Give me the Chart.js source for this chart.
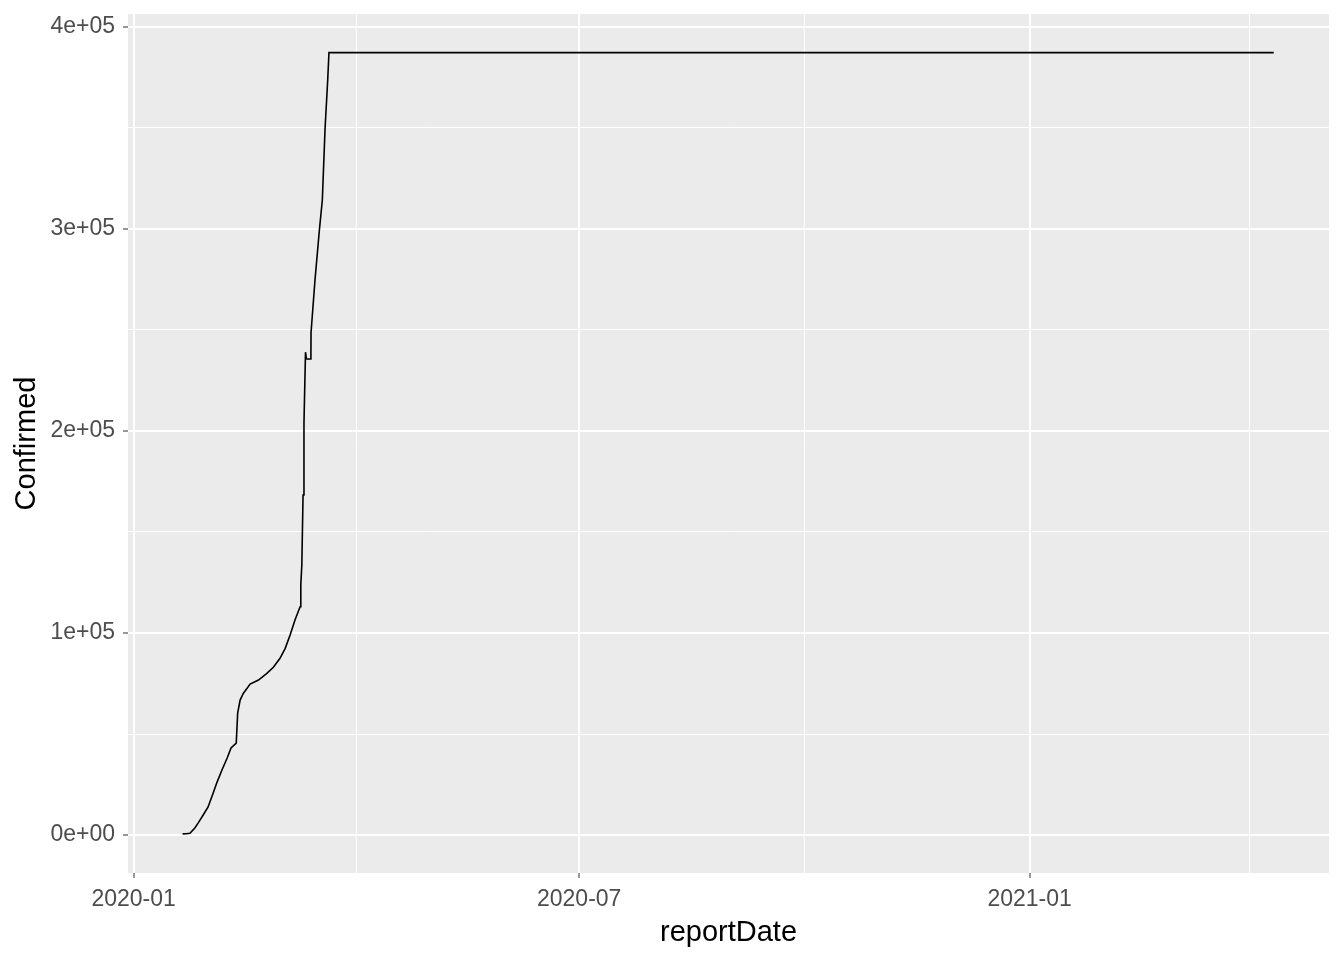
<!DOCTYPE html>
<html>
<head>
<meta charset="utf-8">
<title>Confirmed by reportDate</title>
<script src="https://cdn.jsdelivr.net/npm/chart.js@4.4.1/dist/chart.umd.min.js"></script>
<style>
    html, body { margin: 0; padding: 0; background: #ffffff; }
    #wrap { width: 1344px; height: 960px; }
</style>
</head>
<body>
<div id="wrap">
    <canvas id="confirmedChart" width="1344" height="960"></canvas>
</div>
<script>
// values
const reportDates = [
    '2020-01-21T00:00', '2020-01-22T12:00', '2020-01-24T00:00', '2020-01-26T00:00',
    '2020-01-27T08:00', '2020-01-29T10:00', '2020-01-31T10:00', '2020-02-02T12:00',
    '2020-02-04T02:00', '2020-02-06T02:00', '2020-02-08T05:00', '2020-02-09T19:00',
    '2020-02-11T22:00', '2020-02-12T12:00', '2020-02-13T12:00', '2020-02-14T19:00',
    '2020-02-17T14:00', '2020-02-21T00:00', '2020-02-24T10:00', '2020-02-27T02:00',
    '2020-02-29T19:00', '2020-03-02T22:00', '2020-03-04T22:00', '2020-03-06T22:00',
    '2020-03-09T00:00', '2020-03-09T07:00', '2020-03-09T17:00', '2020-03-10T05:00',
    '2020-03-10T14:00', '2020-03-11T05:00', '2020-03-11T14:00', '2020-03-13T10:00',
    '2020-03-13T11:00', '2020-03-15T02:00', '2020-03-16T22:00', '2020-03-18T02:00',
    '2020-03-19T05:00', '2020-03-20T07:00', '2020-03-20T19:00', '2021-04-10T17:00'
];
const confirmed = [
    550, 600, 900, 3500,
    5900, 9900, 13900, 20800,
    26200, 32200, 38100, 43100,
    45500, 60400, 66800, 70100,
    74700, 76700, 80000, 83000,
    87500, 92400, 99000, 106400,
    113000, 123800, 133700, 168300,
    204000, 239000, 235600, 235600,
    248500, 274700, 300000, 314300,
    350000, 374000, 387300, 387300
];

const xTickDates = ['2020-01-01', '2020-04-01', '2020-07-01', '2020-10-01', '2021-01-01', '2021-04-01'];
const xTickLabels = ['2020-01', '', '2020-07', '', '2021-01', ''];
const yTickValues = [0, 50000, 100000, 150000, 200000, 250000, 300000, 350000, 400000];
const yTickLabels = ['0e+00', '', '1e+05', '', '2e+05', '', '3e+05', '', '4e+05'];

// no date adapter offline, so x is days since 2020-01-01
const origin = Date.parse('2020-01-01T00:00:00Z');
const toDays = (s) => (Date.parse(s.length > 10 ? s + ':00Z' : s + 'T00:00:00Z') - origin) / 86400000;

const points = reportDates.map((d, i) => ({ x: toDays(d), y: confirmed[i] }));
const xTickValues = xTickDates.map(toDays);

const labelFor = (values, labels, v) => {
    const i = values.findIndex(t => Math.abs(t - v) < 1e-6);
    return i === -1 ? '' : labels[i];
};
const isMajor = (values, labels, v) => labelFor(values, labels, v) !== '';

const panelBg = {
    id: 'panelBg',
    beforeDraw(chart) {
        const { ctx, chartArea: a } = chart;
        ctx.save();
        ctx.fillStyle = '#EBEBEB';
        ctx.fillRect(a.left, a.top, a.right - a.left, a.bottom - a.top);
        ctx.restore();
    }
};

const tickFont = { family: '"Liberation Sans", Arial, sans-serif', size: 23 };
const titleFont = { family: '"Liberation Sans", Arial, sans-serif', size: 29 };

const ctx = document.getElementById('confirmedChart').getContext('2d');
new Chart(ctx, {
    type: 'line',
    data: {
        datasets: [{
            label: 'Confirmed',
            data: points,
            borderColor: '#000000',
            borderWidth: 1.6,
            pointRadius: 0,
            tension: 0,
            fill: false
        }]
    },
    options: {
        responsive: false,
        animation: false,
        layout: { padding: { top: 14, right: 15, left: 0, bottom: 0 } },
        plugins: {
            legend: { display: false },
            tooltip: { enabled: false }
        },
        scales: {
            x: {
                type: 'linear',
                min: -2.3,
                max: 488.3,
                afterBuildTicks: (scale) => {
                    scale.ticks = xTickValues.map(v => ({ value: v }));
                },
                afterFit: (scale) => {
                    scale.height = 87;
                    scale.paddingLeft = 0;
                    scale.paddingRight = 0;
                },
                ticks: {
                    autoSkip: false,
                    maxRotation: 0,
                    padding: 8,
                    color: '#4D4D4D',
                    font: tickFont,
                    callback: (v) => labelFor(xTickValues, xTickLabels, v)
                },
                grid: {
                    color: '#FFFFFF',
                    lineWidth: (c) => isMajor(xTickValues, xTickLabels, c.tick.value) ? 2 : 1,
                    tickColor: (c) => isMajor(xTickValues, xTickLabels, c.tick.value) ? '#333333' : 'rgba(0,0,0,0)',
                    tickLength: 5,
                    tickWidth: 1
                },
                border: { display: false },
                title: {
                    display: true,
                    text: 'reportDate',
                    color: '#000000',
                    font: titleFont,
                    padding: { top: 0, bottom: 10 }
                }
            },
            y: {
                type: 'linear',
                min: -18800,
                max: 406400,
                afterBuildTicks: (scale) => {
                    scale.ticks = yTickValues.map(v => ({ value: v }));
                },
                afterFit: (scale) => {
                    scale.width = 128;
                    scale.paddingTop = 0;
                    scale.paddingBottom = 0;
                },
                ticks: {
                    autoSkip: false,
                    padding: 8,
                    color: '#4D4D4D',
                    font: tickFont,
                    callback: (v) => labelFor(yTickValues, yTickLabels, v)
                },
                grid: {
                    color: '#FFFFFF',
                    lineWidth: (c) => isMajor(yTickValues, yTickLabels, c.tick.value) ? 2 : 1,
                    tickColor: (c) => isMajor(yTickValues, yTickLabels, c.tick.value) ? '#333333' : 'rgba(0,0,0,0)',
                    tickLength: 5,
                    tickWidth: 1
                },
                border: { display: false },
                title: {
                    display: true,
                    text: 'Confirmed',
                    color: '#000000',
                    font: titleFont,
                    padding: { top: 10, bottom: 0 }
                }
            }
        }
    },
    plugins: [panelBg]
});
</script>
</body>
</html>
